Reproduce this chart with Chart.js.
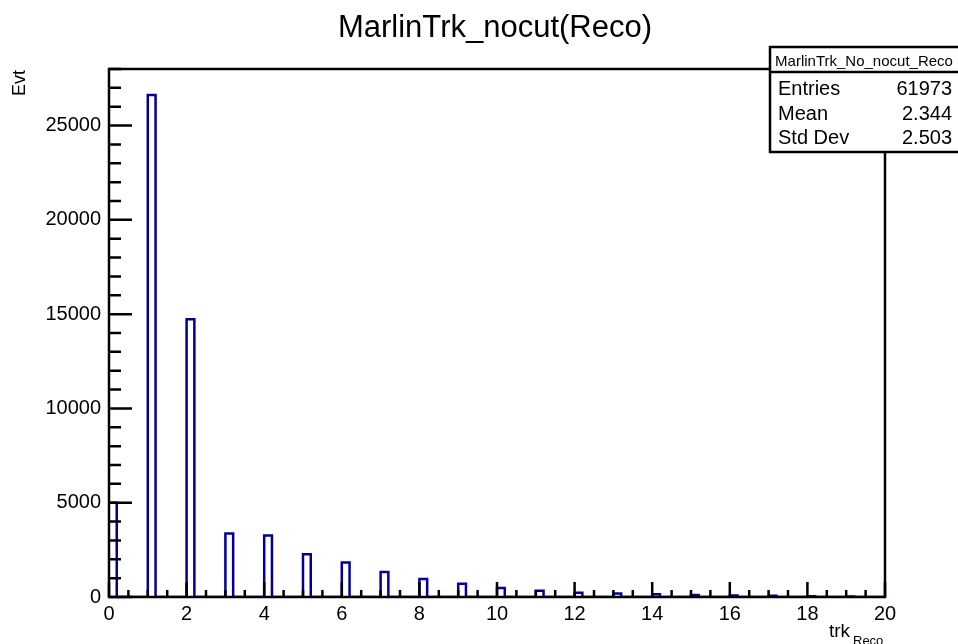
<!DOCTYPE html>
<html lang="en">
<head>
  <meta charset="UTF-8">
  <title>MarlinTrk_nocut(Reco)</title>
  <script src="https://cdn.jsdelivr.net/npm/chart.js"></script>
  <style>
    body {
      margin: 0;
      background-color: white;
    }
    canvas {
      display: block;
    }
  </style>
</head>
<body>
  <canvas id="trkChart" width="958" height="644"></canvas>

  <script>
    // number of reconstructed tracks per event, one histogram bin each
    const trkValues = [0, 1, 2, 3, 4, 5, 6, 7, 8, 9, 10, 11, 12, 13, 14, 15, 16, 17, 18, 19];
    const evtCounts = [5000, 26620, 14730, 3370, 3260, 2270, 1830, 1320, 950, 700,
                       480, 330, 225, 190, 150, 110, 80, 60, 45, 30];
    const binWidth = 0.2;

    const xTicks = [0, 2, 4, 6, 8, 10, 12, 14, 16, 18, 20];
    const yTicks = [0, 5000, 10000, 15000, 20000, 25000];
    const yMax = 28000;

    const statLabels = ['Entries', 'Mean', 'Std Dev'];
    const statValues = ['61973', '2.344', '2.503'];

    const FONT = "'Liberation Sans', Arial, sans-serif";
    const histColor = '#000099';

    // outline of the histogram, stepped along the bin edges
    const outline = [];
    trkValues.forEach((v, i) => {
      outline.push({ x: v, y: evtCounts[i] });
      outline.push({ x: v + binWidth, y: 0 });
    });
    outline.push({ x: 20, y: 0 });

    // ticks inside the frame, frame, stats box and titles
    const rootStyle = {
      id: 'rootStyle',
      afterDatasetsDraw(chart) {
        const { ctx, chartArea: a, scales: { x, y } } = chart;
        ctx.save();
        ctx.strokeStyle = 'black';
        ctx.lineWidth = 2.5;
        ctx.beginPath();
        for (let v = 0; v <= 20; v += 0.5) {
          const px = x.getPixelForValue(v);
          const len = (v % 2 === 0) ? 15 : 7;
          ctx.moveTo(px, a.bottom);
          ctx.lineTo(px, a.bottom - len);
        }
        for (let v = 0; v <= yMax; v += 1000) {
          const py = y.getPixelForValue(v);
          const len = (v % 5000 === 0) ? 23 : 12;
          ctx.moveTo(a.left, py);
          ctx.lineTo(a.left + len, py);
        }
        ctx.stroke();
        ctx.strokeRect(a.left, a.top, a.right - a.left, a.bottom - a.top);
        ctx.restore();
      },
      afterDraw(chart) {
        const { ctx, chartArea: a } = chart;
        ctx.save();
        ctx.fillStyle = 'black';

        // title
        ctx.font = '31px ' + FONT;
        ctx.textAlign = 'center';
        ctx.textBaseline = 'alphabetic';
        ctx.fillText('MarlinTrk_nocut(Reco)', 495, 37);

        // stats box
        const bx = 770, by = 47, bw = 190, bh = 105;
        ctx.fillStyle = 'white';
        ctx.fillRect(bx, by, bw, bh);
        ctx.strokeStyle = 'black';
        ctx.lineWidth = 2.5;
        ctx.strokeRect(bx, by, bw, bh);
        ctx.beginPath();
        ctx.moveTo(bx, 72);
        ctx.lineTo(bx + bw, 72);
        ctx.stroke();
        ctx.fillStyle = 'black';
        ctx.font = '15px ' + FONT;
        ctx.textAlign = 'center';
        ctx.fillText('MarlinTrk_No_nocut_Reco', 864, 66);
        ctx.font = '20px ' + FONT;
        statLabels.forEach((lab, i) => {
          const base = 95 + i * 24.5;
          ctx.textAlign = 'left';
          ctx.fillText(lab, 778, base);
          ctx.textAlign = 'right';
          ctx.fillText(statValues[i], 952, base);
        });

        // y title
        ctx.save();
        ctx.translate(25, a.top + 1);
        ctx.rotate(-Math.PI / 2);
        ctx.font = '18px ' + FONT;
        ctx.textAlign = 'right';
        ctx.fillText('Evt', 0, 0);
        ctx.restore();

        // x title with subscript
        ctx.font = '19px ' + FONT;
        ctx.textAlign = 'right';
        ctx.fillText('trk', 850, 637);
        ctx.font = '13px ' + FONT;
        ctx.textAlign = 'left';
        ctx.fillText('Reco', 853, 645);
        ctx.restore();
      }
    };

    const ctx = document.getElementById('trkChart').getContext('2d');

    new Chart(ctx, {
      type: 'line',
      data: {
        datasets: [{
          label: 'MarlinTrk_No_nocut_Reco',
          data: outline,
          borderColor: histColor,
          borderWidth: 2.5,
          stepped: 'before',
          pointRadius: 0,
          fill: false,
          tension: 0
        }]
      },
      options: {
        responsive: false,
        animation: false,
        layout: {
          padding: { top: 69, right: 73, left: 0, bottom: 0 }
        },
        plugins: {
          legend: { display: false },
          tooltip: { enabled: false }
        },
        scales: {
          x: {
            type: 'linear',
            min: 0,
            max: 20,
            grid: { display: false, drawTicks: false },
            border: { display: false },
            afterBuildTicks: s => { s.ticks = xTicks.map(v => ({ value: v })); },
            afterFit: s => { s.height = 47; },
            ticks: {
              color: 'black',
              font: { family: FONT, size: 20 },
              padding: 5,
              maxRotation: 0,
              autoSkip: false
            }
          },
          y: {
            min: 0,
            max: yMax,
            grid: { display: false, drawTicks: false },
            border: { display: false },
            afterBuildTicks: s => { s.ticks = yTicks.map(v => ({ value: v })); },
            afterFit: s => { s.width = 109; },
            ticks: {
              color: 'black',
              font: { family: FONT, size: 20 },
              padding: 8,
              callback: v => String(v)
            }
          }
        }
      },
      plugins: [rootStyle]
    });
  </script>
</body>
</html>
